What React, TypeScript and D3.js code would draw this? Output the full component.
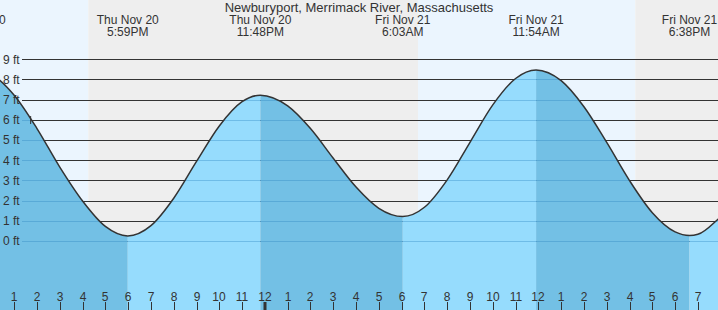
import React from "react";
import * as d3 from "d3";

const W = 718;
const H = 310;
const FONT = '"Liberation Sans", Arial, Helvetica, sans-serif';

const title = "Newburyport, Merrimack River, Massachusetts";

// Hours counted from Thu Nov 20, 00:00
const extremeHours = [11.27, 17.983, 23.8, 30.05, 35.9, 42.633, 48.7];
const extremeFeet = [8.5, 0.25, 7.22, 1.21, 8.47, 0.27, 7.4];
const extremeDays = ["Thu Nov 20", "Thu Nov 20", "Thu Nov 20", "Fri Nov 21", "Fri Nov 21", "Fri Nov 21", "Sat Nov 22"];
const extremeTimes = ["11:16AM", "5:59PM", "11:48PM", "6:03AM", "11:54AM", "6:38PM", "12:41AM"];

const hourlyHours = [12, 13, 14, 15, 16, 17, 19, 20, 21, 22, 23, 25, 26, 27, 28, 29, 31, 32, 33, 34, 35, 37, 38, 39, 40, 41, 42, 43, 44];
const hourlyFeet = [8.26, 7.22, 5.57, 3.66, 1.98, 0.72, 0.76, 2.12, 3.94, 5.7, 6.9, 6.69, 5.57, 4.1, 2.67, 1.62, 1.67, 3.03, 4.89, 6.74, 8.05, 7.94, 6.65, 4.88, 2.99, 1.4, 0.45, 0.33, 1.2];

// sunset / sunrise / sunset
const sunEventHours = [16.25, 30.72, 40.25];

const footTicks = [0, 1, 2, 3, 4, 5, 6, 7, 8, 9];
const hourTicks = d3.range(13, 44);
const nowHour = 13.7;

export default function App() {
  const x = d3.scaleLinear().domain([13, 43]).range([14.2, 14.2 + 30 * 22.79]);
  const y = d3.scaleLinear().domain([0, 9]).range([241, 59.3]);

  const pts = [
    ...extremeHours.map((h, i) => ({ h, f: extremeFeet[i] })),
    ...hourlyHours.map((h, i) => ({ h, f: hourlyFeet[i] })),
  ].sort((a, b) => a.h - b.h);

  const area = d3
    .area<{ h: number; f: number }>()
    .x((d) => x(d.h))
    .y0(H)
    .y1((d) => y(d.f))
    .curve(d3.curveMonotoneX);
  const line = d3
    .line<{ h: number; f: number }>()
    .x((d) => x(d.h))
    .y((d) => y(d.f))
    .curve(d3.curveMonotoneX);

  const domainStart = x.invert(0) - 5;
  const domainEnd = x.invert(W) + 5;
  const bandEdges = [domainStart, ...sunEventHours, domainEnd];
  const bands = bandEdges.slice(0, -1).map((s, i) => ({
    s,
    e: bandEdges[i + 1],
    day: i % 2 === 0,
  }));

  const segments = extremeHours.slice(0, -1).map((s, i) => ({
    s,
    e: extremeHours[i + 1],
    falling: extremeFeet[i + 1] < extremeFeet[i],
  }));

  const gridY = (f: number) => Math.round(y(f)) + 0.5;

  return (
    <svg
      width={W}
      height={H}
      style={{ position: "absolute", left: 0, top: 0, display: "block" }}
      fontFamily={FONT}
    >
      <defs>
        <clipPath id="tideClip">
          <path d={area(pts) || ""} />
        </clipPath>
      </defs>
      {bands.map((b, i) => (
        <rect
          key={"b" + i}
          x={x(b.s)}
          y={0}
          width={x(b.e) - x(b.s)}
          height={H}
          fill={b.day ? "#ebf5fe" : "#eeeeee"}
        />
      ))}
      {footTicks.map((f) => (
        <line key={"g" + f} x1={22} x2={W} y1={gridY(f)} y2={gridY(f)} stroke="#333" strokeWidth={1} />
      ))}
      <g clipPath="url(#tideClip)">
        {segments.map((s, i) => (
          <rect
            key={"s" + i}
            x={x(s.s)}
            y={0}
            width={x(s.e) - x(s.s)}
            height={H}
            fill={s.falling ? "#73c0e5" : "#96dcfd"}
          />
        ))}
        {footTicks.map((f) => (
          <line key={"gu" + f} x1={22} x2={W} y1={gridY(f)} y2={gridY(f)} stroke="rgba(40,130,190,0.35)" strokeWidth={1} />
        ))}
      </g>
      <path d={line(pts) || ""} fill="none" stroke="#333" strokeWidth={1.5} />
      <line x1={x(nowHour) + 0.5} x2={x(nowHour) + 0.5} y1={116} y2={124} stroke="#333" strokeWidth={1} />
      {footTicks.map((f) => (
        <text key={"yl" + f} x={3} y={y(f) + 4.3} fontSize={12} fill="#333">
          {f} ft
        </text>
      ))}
      <text x={W / 2} y={12} fontSize={13} fill="#333" textAnchor="middle">
        {title}
      </text>
      {extremeHours.map((h, i) => (
        <text key={"el" + i} x={x(h)} y={24} fontSize={12} fill="#333" textAnchor="middle">
          <tspan x={x(h)} y={24}>{extremeDays[i]}</tspan>
          <tspan x={x(h)} y={36}>{extremeTimes[i]}</tspan>
        </text>
      ))}
      {hourTicks.map((h) => {
        const hr = h % 12 === 0 ? 12 : h % 12;
        const midnight = h % 24 === 0;
        const xx = Math.round(x(h));
        return (
          <g key={"t" + h}>
            <text x={xx} y={300.5} fontSize={12} fill="#333" textAnchor="middle">
              {hr}
            </text>
            {midnight ? (
              <rect x={xx - 1.5} y={302} width={3} height={8} fill="#333" />
            ) : (
              <line x1={xx + 0.5} x2={xx + 0.5} y1={302} y2={310} stroke="#333" strokeWidth={1} />
            )}
          </g>
        );
      })}
    </svg>
  );
}
